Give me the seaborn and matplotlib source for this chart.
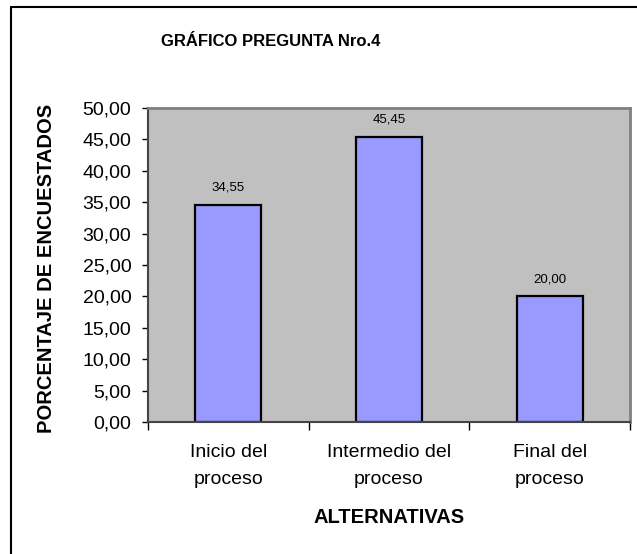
import matplotlib
matplotlib.use("Agg")
import matplotlib.pyplot as plt
from matplotlib.lines import Line2D
from matplotlib.ticker import FixedLocator
import seaborn as sns
import pandas as pd

# datos del grafico
alternativas = ["Inicio del\nproceso", "Intermedio del\nproceso", "Final del\nproceso"]
porcentajes = [34.55, 45.45, 20.00]
y_ticks = [0, 5, 10, 15, 20, 25, 30, 35, 40, 45, 50]

df = pd.DataFrame({"alternativa": alternativas, "porcentaje": porcentajes})

sns.set_style("white")
plt.rcParams['font.family'] = ['Liberation Sans', 'DejaVu Sans']
plt.rcParams['text.color'] = 'black'
plt.rcParams['axes.labelcolor'] = 'black'
plt.rcParams['xtick.color'] = 'black'
plt.rcParams['ytick.color'] = 'black'

W, H = 637, 554
fig = plt.figure(figsize=(W / 100, H / 100), dpi=100)
ax = fig.add_axes([148 / W, 1 - 422 / H, (630 - 148) / W, (422 - 108) / H])

sns.barplot(data=df, x="alternativa", y="porcentaje", color="#9999FF",
            saturation=1, width=0.41, edgecolor="black", linewidth=1.6, ax=ax)

ax.set_facecolor("#C0C0C0")
ax.set_ylim(0, 50)
ax.set_xlim(-0.5, 2.5)
ax.set_yticks(y_ticks)
ax.set_yticklabels([f"{v:.2f}".replace(".", ",") for v in y_ticks], fontsize=14)
ax.tick_params(axis="y", direction="out", length=4, width=1, color="black", pad=8, left=True)

# etiquetas en x sin marca, marcas en los limites de categoria
ax.tick_params(axis="x", which="major", length=0, labelsize=14, pad=16)
ax.xaxis.set_minor_locator(FixedLocator([-0.5, 0.5, 1.5, 2.5]))
ax.tick_params(axis="x", which="minor", direction="out", length=6, width=1, color="black", bottom=True)
for lbl in ax.get_xticklabels():
    lbl.set_linespacing(1.75)

for side in ["top", "right"]:
    ax.spines[side].set_color("#808080")
    ax.spines[side].set_linewidth(2)
for side in ["left", "bottom"]:
    ax.spines[side].set_color("#444444")
    ax.spines[side].set_linewidth(1.5)

# valores encima de las barras
for i, v in enumerate(porcentajes):
    ax.annotate(f"{v:.2f}".replace(".", ","), (i, v), xytext=(0, 8), textcoords="offset points",
                ha="center", va="bottom", fontsize=9.5)

ax.set_xlabel("ALTERNATIVAS", fontsize=14.5, fontweight="bold")
ax.xaxis.set_label_coords(0.5, -0.275)
ax.set_ylabel("PORCENTAJE DE ENCUESTADOS", fontsize=14.5, fontweight="bold")
ax.yaxis.set_label_coords(-0.19, 0.49)

fig.text(271 / W, 1 - 42 / H, "GRÁFICO PREGUNTA Nro.4", ha="center", va="center",
         fontsize=12, fontweight="bold")

# borde exterior del grafico (solo arriba e izquierda visibles)
fig.add_artist(Line2D([11 / W, 1], [1 - 7 / H, 1 - 7 / H], color="black", lw=1.5, transform=fig.transFigure))
fig.add_artist(Line2D([11 / W, 11 / W], [0, 1 - 7 / H], color="black", lw=1.5, transform=fig.transFigure))

fig.savefig("out.png", dpi=100)
